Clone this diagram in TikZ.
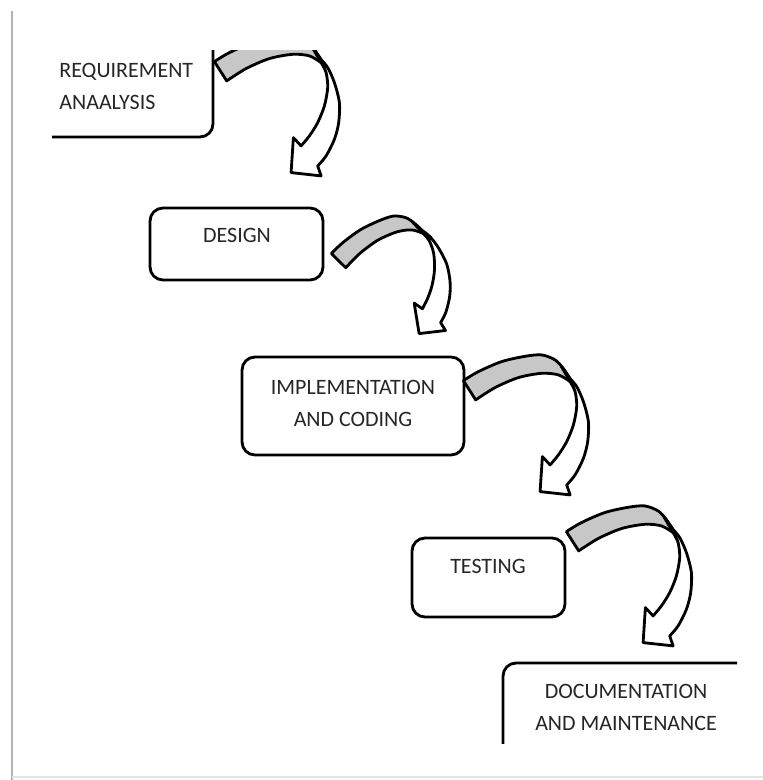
\documentclass[tikz,border=0pt]{standalone}
\usepackage{fontspec}
\setmainfont{Carlito}
\usetikzlibrary{calc}

\begin{document}
\begin{tikzpicture}[x=0.02cm, y=-0.02cm, line width=1.6pt]
  \tikzset{
    box/.style={draw, rectangle, rounded corners=0.26cm},
    caption/.style={inner sep=0pt, align=center, text=black!85,
      font=\fontsize{12.5}{18.2}\selectfont},
    pics/bend/.style={code={
      % shaded back of the ribbon
      \filldraw[fill=black!22, line join=round]
        plot[smooth] coordinates {(0,0) (15,-9) (38.3,-19) (61.7,-24.3) (78.3,-25.7) (91.7,-20.7) (100,-12) (106,-3)}
        -- plot[smooth] coordinates {(106.7,1) (95,-5.7) (78.3,-7.3) (55,-3) (31.7,7) (12.3,19.3)}
        -- cycle;
      % front of the ribbon with the head
      \filldraw[fill=white, line join=round]
        plot[smooth] coordinates {(98,-14) (106,-3) (113.3,6) (120,21) (125,41) (124.3,61) (120,77.7) (111.7,94.3) (103.3,104.3)}
        -- (106.7,114.3) -- (76.7,111) -- (79,76)
        -- plot[smooth] coordinates {(86.7,84.3) (95,74.3) (103.3,61) (110,44.3) (113.3,26) (111.7,11) (106.7,1)}
        -- cycle;
    }}
  }

  \useasboundingbox (0,0) rectangle (763,780);
  \fill[white] (0,0) rectangle (763,780);

  % page edge
  \draw[black!30, line width=1pt] (12,11) -- (12,780);
  \draw[black!10, line width=0.8pt] (12,777) -- (763,777);

  \begin{scope}
    \clip (52,51) rectangle (737,743);

    % Boxes
    \node[box, minimum width=4cm, minimum height=2.2cm] (req) at (113,82) {};
    \node[box, minimum width=3.46cm, minimum height=1.44cm] (design) at (236.5,244) {};
    \node[box, minimum width=4.44cm, minimum height=1.96cm] (impl) at (353,406) {};
    \node[box, minimum width=3.06cm, minimum height=1.58cm] (test) at (488.5,577.5) {};
    \node[box, minimum width=5.2cm, minimum height=2.2cm] (doc) at (633,718) {};

    \node[caption, align=left, anchor=west] (req-txt) at (58,86.5) {REQUIREMENT\\ANAALYSIS};
    \node[caption, anchor=base] (design-txt) at (237,243) {DESIGN};
    \node[caption] (impl-txt) at (353,403.5) {IMPLEMENTATION\\AND CODING};
    \node[caption, anchor=base] (test-txt) at (488,573) {TESTING};
    \node[caption] (doc-txt) at (626,707.5) {DOCUMENTATION\\AND MAINTENANCE};

    % Arrows
    \pic at ($(req.north east)+(0,36)$) {bend};
    \pic[rotate=13, scale=0.88] at ($(design.north east)+(7,47)$) {bend};
    \pic at ($(impl.north east)+(-2,25)$) {bend};
    \pic at ($(test.north east)+(0,-5)$) {bend};
  \end{scope}
\end{tikzpicture}
\end{document}
